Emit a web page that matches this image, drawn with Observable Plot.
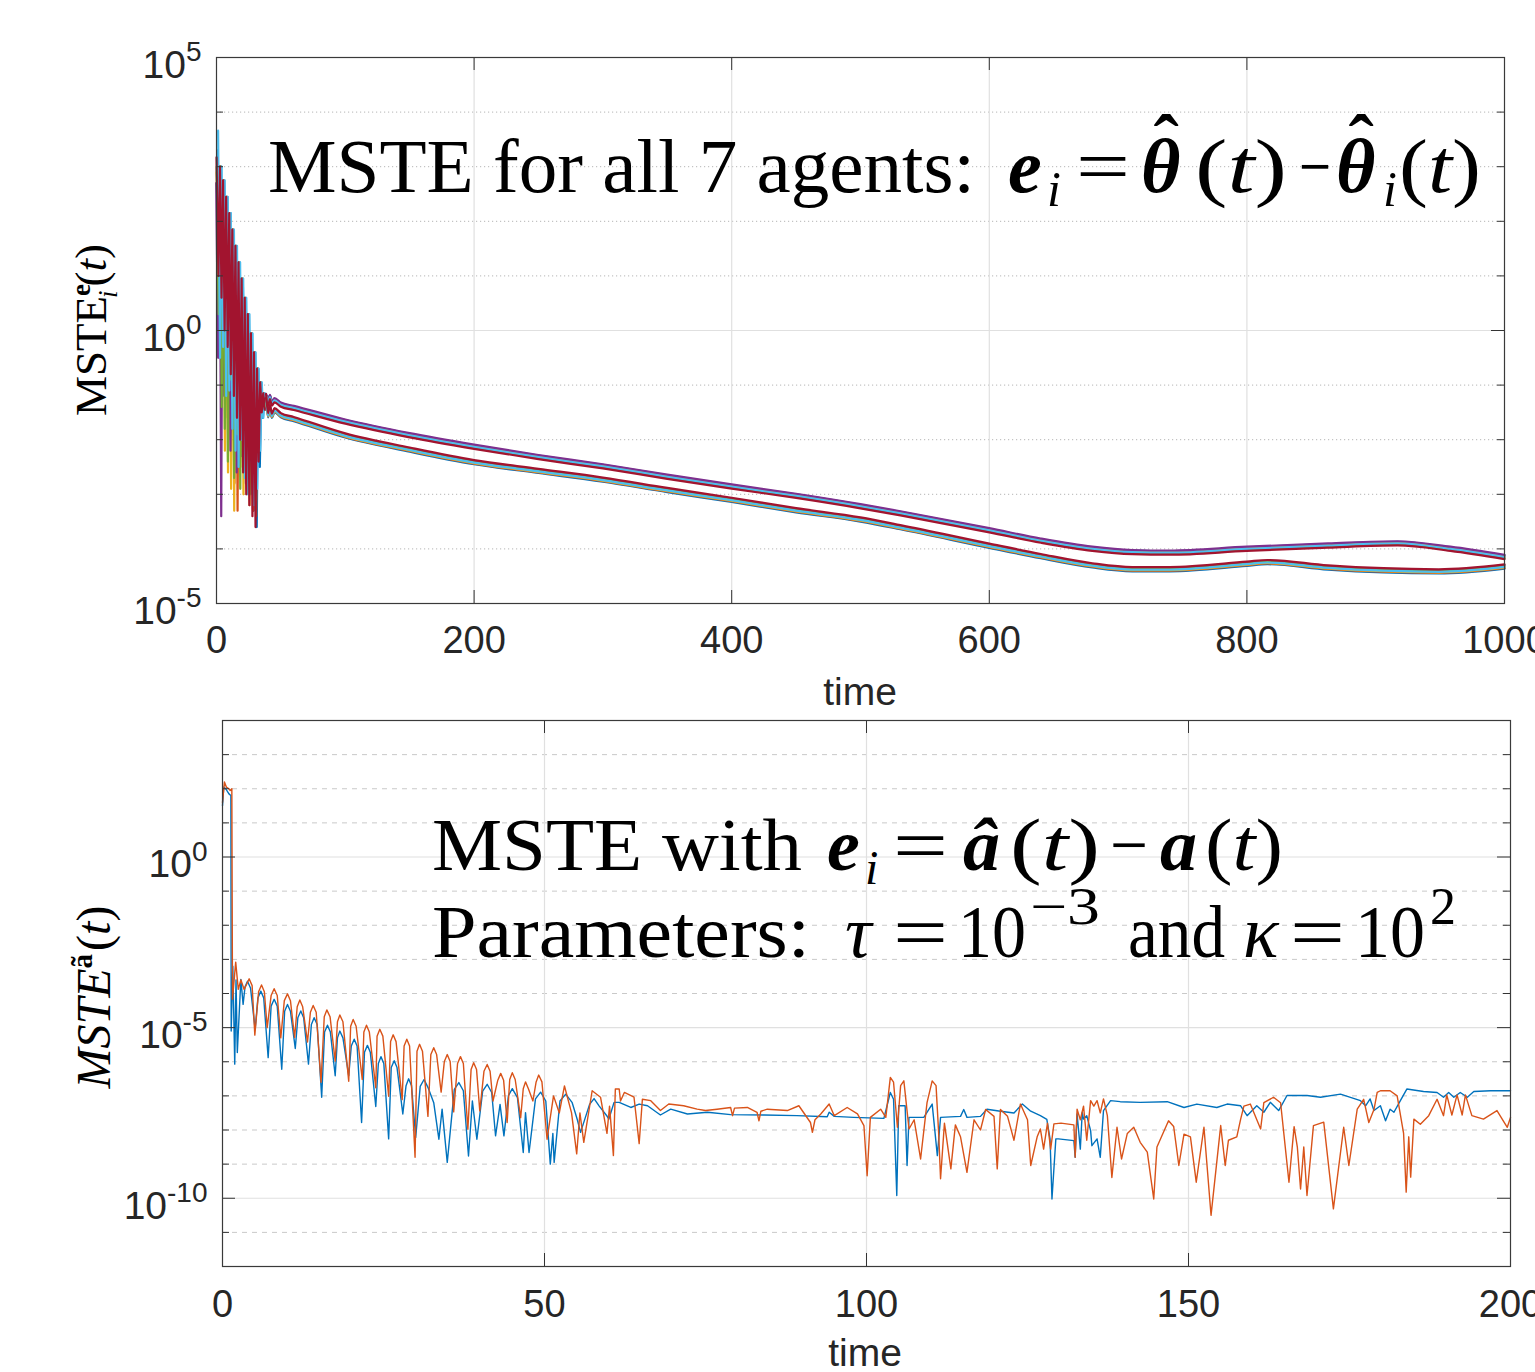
<!DOCTYPE html>
<html><head><meta charset="utf-8">
<script src="https://cdn.jsdelivr.net/npm/d3@7"></script>
<script src="https://cdn.jsdelivr.net/npm/@observablehq/plot@0.6"></script>
<style>
html,body{margin:0;padding:0;background:#fff;width:1535px;height:1372px;overflow:hidden;}
#wrap{position:relative;width:1535px;height:1372px;}
#top{position:absolute;left:0;top:0;}
#bot{position:absolute;left:0;top:710px;}
</style></head><body><div id="wrap"><div id="top"></div><div id="bot"></div></div>
<script>
// ---------- TOP PANEL DATA (log10 values) ----------
const agentColors = ["#0072BD","#D95319","#EDB120","#7E2F8E","#77AC30","#4DBEEE","#A2142F"];
const agentStart = [3.3, 3.05, 2.9, 2.7, 3.0, 3.66, 3.17];
const peakT = [2.7, 5.1, 7.5, 9.9, 12.3, 14.7, 17.1, 19.5, 21.9, 24.3, 26.7, 29.1, 31.5, 33.9];
const envelopeLog = [3.0, 2.75, 2.45, 2.15, 1.85, 1.55, 1.25, 0.95, 0.6, 0.3, -0.05, -0.4, -0.7, -0.95];
const troughT = [1.5, 3.9, 6.3, 8.7, 11.1, 13.5, 15.9, 18.3, 20.7, 23.1, 25.5, 27.9, 30.3, 32.7, 35.1];
const troughBlue      = [0.2, -0.5, -1.0, 0.0, -1.5, -1.8, -0.8, -2.3, -1.0, -2.6, -3.0, -3.3, -3.6, -2.5, -1.6];
const troughOrange    = [1.0, -0.2, -1.6, -2.0, -1.0, -2.8, -3.3, -1.5, -2.2, -2.9, -1.8, -3.3, -3.4, -2.0, -1.5];
const troughYellow    = [0.5, -0.8, -2.2, -2.6, -2.9, -3.3, -2.0, -2.5, -3.0, -1.7, -3.2, -2.6, -3.1, -2.0, -1.4];
const troughPurple    = [-0.5, -3.4, -1.2, -0.6, -2.2, -1.5, -2.6, -1.0, -2.0, -2.8, -1.8, -2.4, -2.6, -1.8, -1.4];
const troughGreen     = [0.3, -1.4, -1.8, -2.4, -0.9, -2.7, -1.9, -2.9, -1.4, -2.3, -3.0, -2.0, -2.7, -1.9, -1.5];
const troughLightBlue = [-0.5, -0.3, -1.2, -1.1, -1.8, -2.2, -2.5, -2.0, -2.7, -3.0, -2.4, -3.2, -2.9, -2.2, -1.6];
const troughRed       = [1.0, 0.6, 0.0, -0.3, -0.8, -1.2, -1.6, -2.0, -2.6, -3.0, -3.2, -3.4, -3.6, -2.4, -1.5];
const oscTail = [[36.3, -1.15], [37.4, -1.45], [38.5, -1.2]];
const upperBand = [[38.5,-1.2],[40,-1.35],[41.5,-1.22],[43,-1.34],[45,-1.28],[50,-1.36],[60,-1.42],[100,-1.67],[150,-1.92],[200,-2.13],[250,-2.32],[300,-2.49],[350,-2.68],[400,-2.86],[450,-3.03],[500,-3.22],[531,-3.35],[600,-3.66],[640,-3.85],[680,-4.0],[711,-4.06],[740,-4.07],[800,-4.0],[863,-3.94],[917,-3.9],[958,-4.0],[1000,-4.15]];
const lowerBand = [[38.5,-1.2],[40,-1.55],[41.5,-1.4],[43,-1.56],[45,-1.46],[50,-1.55],[60,-1.62],[100,-1.92],[150,-2.18],[200,-2.41],[250,-2.57],[300,-2.73],[350,-2.92],[400,-3.10],[450,-3.29],[500,-3.46],[531,-3.6],[600,-3.94],[640,-4.13],[680,-4.3],[711,-4.37],[740,-4.37],[800,-4.27],[816,-4.24],[863,-4.34],[949,-4.41],[1000,-4.32]];
const topXTicks = [0, 200, 400, 600, 800, 1000];
const topYMajor = [1e-5, 1, 1e5];
const topYMinor = [1e-4, 1e-3, 1e-2, 1e-1, 1e1, 1e2, 1e3, 1e4];

// ---------- BOTTOM PANEL DATA (log10 values) ----------
const blueLog = [[0,1.5],[0.2,2.05],[0.5,2.0],[1.0,1.85],[1.3,1.8],[1.35,-5.1],[1.6,-3.2],[1.9,-6.07],[2.1,-3.6],[2.3,-5.73],[2.85,-3.59],[3.2,-4.32],[3.5,-3.8],[3.88,-3.64],[4.35,-3.84],[5.07,-5.05],[5.5,-4.13],[5.95,-3.93],[6.4,-4.13],[7.09,-5.88],[7.55,-4.37],[8.02,-4.17],[8.5,-4.37],[9.2,-6.22],[9.65,-4.52],[10.09,-4.32],[10.55,-4.52],[11.3,-5.61],[11.7,-4.71],[12.16,-4.51],[12.6,-4.71],[13.35,-6.07],[13.8,-4.91],[14.23,-4.71],[14.7,-4.91],[15.4,-7.04],[15.85,-5.13],[16.3,-4.93],[16.75,-5.13],[17.5,-6.41],[17.85,-5.3],[18.22,-5.10],[18.7,-5.3],[19.6,-6.41],[20.0,-5.54],[20.45,-5.34],[20.9,-5.54],[21.6,-7.78],[22.05,-5.72],[22.5,-5.52],[22.95,-5.72],[23.8,-7.31],[24.2,-6.05],[24.6,-5.85],[25.05,-6.05],[25.8,-8.26],[26.2,-6.17],[26.66,-5.97],[27.1,-6.17],[28.0,-7.53],[28.5,-6.7],[28.9,-6.5],[29.35,-6.7],[30.0,-8.22],[30.7,-6.72],[31.3,-6.52],[31.9,-6.75],[32.8,-7.2],[33.6,-8.27],[34.1,-7.39],[34.9,-8.95],[36.0,-6.81],[36.7,-6.61],[37.4,-6.85],[38.2,-8.76],[38.8,-7.15],[39.5,-8.27],[40.4,-6.86],[41.1,-6.66],[41.8,-6.9],[42.4,-8.17],[43.1,-7.25],[43.7,-8.17],[44.4,-6.99],[45.0,-6.79],[45.8,-7.05],[46.7,-8.66],[47.05,-7.49],[47.6,-8.66],[48.6,-7.09],[49.4,-6.89],[50.2,-7.15],[50.9,-9.0],[51.3,-8.1],[51.5,-8.95],[52.4,-7.15],[53.3,-6.95],[54.3,-7.2],[55.1,-7.7],[55.6,-8.07],[57.0,-7.25],[57.7,-7.08],[58.5,-7.3],[59.7,-7.59],[60.0,-7.68],[60.8,-7.19],[61.6,-7.19],[63.4,-7.34],[64.7,-7.24],[66.0,-7.29],[68.0,-7.56],[69.6,-7.39],[72.2,-7.53],[75.3,-7.48],[78.9,-7.55],[84.1,-7.56],[89.2,-7.58],[93.9,-7.61],[94.2,-7.48],[95.0,-7.6],[98.0,-7.63],[102.7,-7.66],[103.7,-6.9],[104.2,-7.1],[104.7,-9.92],[105.0,-7.29],[106.0,-7.29],[106.3,-9.04],[106.6,-7.63],[107.4,-7.63],[108.9,-7.63],[110.2,-7.24],[111.0,-8.75],[111.5,-7.63],[114.6,-7.6],[115.1,-7.4],[115.6,-7.63],[117.7,-7.6],[118.7,-7.39],[120.8,-7.45],[122.9,-7.5],[124.2,-7.24],[125.5,-7.45],[127.0,-7.58],[128.0,-7.69],[128.5,-8.26],[128.8,-10.02],[129.4,-8.26],[129.8,-8.26],[132.2,-8.31],[132.4,-8.8],[132.7,-7.53],[133.2,-8.56],[133.5,-7.48],[133.7,-7.68],[134.2,-7.58],[134.8,-8.02],[135.0,-8.46],[135.8,-8.26],[136.3,-8.8],[136.8,-7.43],[137.9,-7.14],[139.4,-7.17],[142.5,-7.19],[146.7,-7.17],[149.3,-7.34],[151.3,-7.24],[154.4,-7.34],[156.0,-7.24],[158.1,-7.29],[159.1,-7.58],[160.6,-7.29],[161.7,-7.48],[162.7,-7.19],[164.0,-7.43],[165.3,-6.99],[168.4,-6.99],[170.5,-7.04],[173.6,-6.95],[176.7,-7.14],[177.5,-7.29],[178.2,-7.09],[178.8,-7.43],[179.8,-7.29],[180.6,-7.73],[181.3,-7.39],[181.9,-7.48],[182.9,-7.14],[183.9,-6.8],[186.5,-6.87],[188.6,-6.9],[189.6,-7.04],[190.4,-6.9],[191.2,-7.04],[192.2,-6.9],[193.3,-7.04],[194.3,-6.87],[196.9,-6.85],[200,-6.85]];
const orangeLog = [[0,1.6],[0.3,2.2],[0.6,2.05],[1.0,2.0],[1.2,1.95],[1.45,2.0],[1.55,-4.17],[2.05,-3.08],[2.45,-3.88],[2.85,-3.6],[3.36,-3.88],[3.7,-3.75],[4.14,-3.57],[4.6,-3.77],[5.02,-5.22],[5.6,-3.95],[6.06,-3.75],[6.5,-3.95],[6.94,-5.0],[7.55,-4.06],[8.02,-3.86],[8.5,-4.06],[9.05,-5.3],[9.6,-4.21],[10.09,-4.01],[10.55,-4.21],[11.2,-5.29],[11.6,-4.39],[12.01,-4.19],[12.45,-4.39],[13.2,-5.42],[13.65,-4.55],[14.08,-4.35],[14.55,-4.55],[15.3,-6.6],[15.8,-4.68],[16.2,-4.48],[16.7,-4.68],[17.5,-5.98],[17.85,-4.83],[18.22,-4.63],[18.7,-4.83],[19.6,-6.57],[19.9,-4.96],[20.29,-4.76],[20.75,-4.96],[21.7,-6.52],[21.95,-5.13],[22.36,-4.93],[22.8,-5.13],[23.8,-6.76],[24.0,-5.25],[24.43,-5.05],[24.9,-5.25],[25.8,-7.01],[26.1,-5.41],[26.5,-5.21],[26.95,-5.41],[27.9,-7.11],[28.2,-5.54],[28.62,-5.34],[29.05,-5.54],[29.9,-8.8],[30.2,-5.69],[30.6,-5.49],[31.05,-5.69],[31.9,-7.6],[32.35,-5.79],[32.8,-5.59],[33.25,-5.79],[33.95,-6.89],[34.45,-5.99],[34.9,-5.79],[35.35,-5.99],[35.9,-7.47],[36.5,-6.05],[36.95,-5.85],[37.4,-6.05],[38.1,-7.98],[38.6,-6.23],[39.0,-6.03],[39.45,-6.23],[39.95,-7.44],[40.6,-6.28],[41.1,-6.08],[41.55,-6.28],[42.0,-7.15],[42.75,-6.54],[43.2,-6.34],[43.65,-6.54],[44.2,-7.78],[44.6,-6.52],[45.0,-6.32],[45.45,-6.52],[46.3,-7.64],[46.7,-6.79],[47.05,-6.59],[47.5,-6.79],[48.2,-7.15],[48.7,-6.59],[49.1,-6.39],[49.6,-6.59],[50.4,-8.27],[51.4,-7.0],[52.3,-7.5],[53.1,-6.71],[54.2,-7.5],[55.0,-8.7],[55.5,-7.5],[56.1,-8.36],[57.4,-6.85],[58.7,-7.04],[59.7,-8.1],[60.1,-7.3],[60.7,-8.75],[61.0,-6.8],[61.6,-6.8],[61.8,-7.15],[62.4,-6.9],[63.9,-7.04],[64.7,-8.4],[65.2,-7.1],[66.5,-7.14],[68.0,-7.43],[69.3,-7.24],[71.6,-7.29],[73.7,-7.39],[75.0,-7.43],[76.8,-7.39],[78.9,-7.34],[79.2,-7.58],[79.5,-7.36],[81.5,-7.34],[83.0,-7.48],[83.3,-7.73],[83.6,-7.45],[84.6,-7.39],[87.7,-7.43],[89.5,-7.29],[91.3,-7.78],[91.6,-8.07],[92.0,-7.7],[92.9,-7.53],[94.2,-7.24],[95.0,-7.58],[97.0,-7.34],[98.6,-7.53],[99.6,-7.87],[100.1,-9.34],[100.6,-7.63],[102.2,-7.39],[103.0,-7.63],[103.7,-6.46],[104.2,-6.6],[104.8,-7.92],[105.3,-6.7],[105.8,-6.56],[106.6,-7.97],[107.4,-7.7],[108.4,-8.85],[109.4,-7.2],[110.2,-6.56],[110.8,-6.7],[111.2,-8.07],[111.5,-9.43],[112.1,-7.8],[113.1,-9.14],[113.8,-7.85],[114.6,-8.2],[115.6,-9.24],[116.7,-7.7],[117.7,-8.0],[118.5,-7.4],[119.8,-7.6],[120.3,-9.14],[120.8,-7.4],[121.9,-7.6],[122.9,-8.3],[123.9,-7.24],[125.0,-7.7],[125.5,-9.04],[126.5,-8.2],[127.0,-7.97],[127.5,-8.56],[128.1,-7.8],[128.6,-8.56],[129.1,-7.82],[130.2,-7.8],[132.2,-7.85],[132.4,-8.8],[132.7,-7.39],[133.2,-7.7],[133.7,-7.3],[134.2,-8.3],[134.8,-7.14],[135.3,-7.3],[135.8,-7.14],[136.3,-7.5],[136.8,-7.09],[137.4,-7.58],[138.1,-9.39],[138.9,-7.92],[139.6,-8.85],[140.5,-8.1],[141.5,-7.92],[142.5,-8.36],[143.6,-8.65],[144.6,-10.02],[145.1,-8.5],[146.9,-7.73],[147.7,-7.9],[148.5,-9.04],[149.3,-8.12],[150.3,-8.2],[151.2,-9.53],[152.4,-7.92],[153.5,-10.5],[155.0,-7.87],[155.7,-9.04],[156.2,-8.3],[157.5,-8.2],[158.1,-7.68],[158.6,-7.3],[159.6,-7.24],[161.2,-7.97],[161.7,-7.2],[163.2,-7.04],[164.3,-7.2],[165.6,-9.53],[166.4,-7.9],[166.9,-8.5],[167.4,-9.73],[167.9,-8.5],[168.4,-9.92],[169.4,-7.87],[171.0,-7.77],[172.5,-10.31],[174.1,-7.92],[174.9,-9.04],[176.2,-7.39],[177.2,-7.1],[178.0,-7.78],[178.8,-7.4],[179.3,-6.9],[179.8,-6.85],[181.3,-6.85],[182.4,-7.0],[183.4,-8.1],[183.8,-9.82],[184.2,-8.2],[184.5,-9.38],[185.0,-7.68],[186.0,-7.83],[187.3,-7.58],[188.6,-7.1],[189.6,-7.58],[190.1,-6.97],[190.9,-7.56],[191.7,-6.97],[192.5,-7.56],[193.0,-6.97],[194.0,-7.58],[195.8,-7.68],[197.9,-7.43],[199.5,-7.92],[200,-7.63]];
const botXTicks = [0, 50, 100, 150, 200];
const botYMajor = [1e-10, 1e-5, 1];
const botYMinor = [1e-12, 1e-11, 1e-9, 1e-8, 1e-7, 1e-6, 1e-4, 1e-3, 1e-2, 1e-1, 1e1, 1e2, 1e3, 1e4];

// ---------- helpers ----------
const toRows = arr => arr.map(([t, l]) => ({t, v: Math.pow(10, l)}));
const expFmt = d => "10^" + Math.round(Math.log10(d));
const plainFmt = d => String(d);
const agentTroughs = [troughBlue, troughOrange, troughYellow, troughPurple, troughGreen, troughLightBlue, troughRed];
function agentOsc(i) {
  const pts = [[0, agentStart[i]]];
  for (let k = 0; k < troughT.length; k++) {
    pts.push([troughT[k], agentTroughs[i][k]]);
    if (k < peakT.length) pts.push([peakT[k], envelopeLog[k]]);
  }
  return toRows(pts.concat(oscTail));
}
const SANS = "'Liberation Sans', Arial, Helvetica, sans-serif";
const SERIF = "'Liberation Serif', 'Times New Roman', serif";
const FW = 1288, FH = 546;

function supLabels(svg) {
  d3.select(svg).selectAll("text").each(function() {
    const m = /^10\^(-?\d+)$/.exec(this.textContent);
    if (!m) return;
    const el = d3.select(this);
    el.text(null);
    el.append("tspan").text("10");
    el.append("tspan").attr("dy", "-0.6em").attr("font-size", "28px").text(m[1]);
  });
}
function txt(g, x, y, s, o = {}) {
  const t = g.append("text").attr("x", x).attr("y", y)
    .attr("font-family", SERIF).attr("font-size", o.size || 76).attr("fill", "#000")
    .attr("font-style", o.italic ? "italic" : "normal").attr("font-weight", o.bold ? "bold" : "normal")
    .attr("text-anchor", o.anchor || "start");
  if (o.len) t.attr("textLength", o.len).attr("lengthAdjust", "spacingAndGlyphs");
  if (o.parts) { for (const p of o.parts) { const ts = t.append("tspan").text(p[0]); if (p[1]) ts.attr("font-style", "italic"); } }
  else t.text(s);
  return t;
}
function thetaHat(g, x, y) {
  const t = txt(g, x, y, "θ", {bold: true, italic: true});
  t.append("tspan").attr("dx", -27).attr("dy", -24).attr("font-style", "normal").text("ˆ");
  return t;
}

// ---------- TOP PLOT ----------
const oscMarks = agentColors.map((c, i) => Plot.line(agentOsc(i), {x: "t", y: "v", stroke: c, strokeWidth: 2.2, dx: [1.2, 0.6, 0.3, -0.3, 0.2, 1.6, 0][i]}));
const upOff = [-1.5, -0.5, 0.5, -2.2, 1, 0, 2];
const loOff = [2.2, 1.5, 1, -1, 0, 0.5, -2];
const bandMarks = [];
agentColors.forEach((c, i) => {
  bandMarks.push(Plot.line(toRows(upperBand), {x: "t", y: "v", stroke: c, strokeWidth: 2.2, dy: upOff[i], curve: "monotone-x"}));
  bandMarks.push(Plot.line(toRows(lowerBand), {x: "t", y: "v", stroke: c, strokeWidth: 2.2, dy: loOff[i], curve: "monotone-x"}));
});

const topPlot = Plot.plot({
  width: 1535, height: 710,
  marginLeft: 216, marginRight: 31, marginTop: 57, marginBottom: 107,
  style: {fontFamily: SANS, fontSize: "38px", color: "#262626", background: "white", overflow: "visible"},
  x: {domain: [0, 1000], axis: null},
  y: {type: "log", domain: [1e-5, 1e5], axis: null},
  marks: [
    Plot.ruleY(topYMinor, {stroke: "#b5b5b5", strokeDasharray: "1.2,2.8", strokeWidth: 1}),
    Plot.ruleY([1], {stroke: "#e0e0e0", strokeWidth: 1.2}),
    Plot.ruleX(topXTicks.slice(1, -1), {stroke: "#e0e0e0", strokeWidth: 1.2}),
    ...oscMarks,
    ...bandMarks,
    Plot.tickY(topYMinor, {stroke: "#333", insetRight: FW - 7}),
    Plot.tickY(topYMinor, {stroke: "#333", insetLeft: FW - 7}),
    Plot.tickY([1], {stroke: "#333", insetRight: FW - 13}),
    Plot.tickY([1], {stroke: "#333", insetLeft: FW - 13}),
    Plot.tickX(topXTicks, {stroke: "#333", insetTop: FH - 13}),
    Plot.tickX(topXTicks, {stroke: "#333", insetBottom: FH - 13}),
    Plot.frame({stroke: "#3a3a3a", strokeWidth: 1.2}),
    Plot.axisX({ticks: topXTicks, tickSize: 0, tickPadding: 23, tickFormat: plainFmt, label: null, fontSize: 38, fill: "#262626"}),
    Plot.axisY({ticks: topYMajor, tickSize: 0, tickPadding: 15, tickFormat: expFmt, label: null, fontSize: 39, fill: "#262626", dy: 8})
  ]
});
supLabels(topPlot);
{
  const g = d3.select(topPlot).append("g");
  g.append("text").attr("x", 860).attr("y", 705).attr("text-anchor", "middle")
    .attr("font-family", SANS).attr("font-size", 39).attr("fill", "#262626").text("time");
  const yl = g.append("text").attr("transform", "translate(106,330) rotate(-90)").attr("text-anchor", "middle")
    .attr("font-family", SERIF).attr("font-size", 45).attr("fill", "#000");
  yl.append("tspan").text("MSTE");
  yl.append("tspan").attr("dy", -16).attr("font-size", 27).attr("font-weight", "bold").text("e");
  yl.append("tspan").attr("dx", -14).attr("dy", 27).attr("font-size", 27).attr("font-style", "italic").text("i");
  yl.append("tspan").attr("dy", -11).attr("dx", 4).text("(");
  yl.append("tspan").attr("font-style", "italic").text("t");
  yl.append("tspan").text(")");
  // annotation
  txt(g, 268, 192, "MSTE for all 7 agents:", {len: 707});
  txt(g, 1008, 192, "e", {bold: true, italic: true});
  txt(g, 1047, 206, "i", {italic: true, size: 50});
  txt(g, 1076, 192, "=", {len: 54});
  thetaHat(g, 1141, 192);
  txt(g, 1195, 192, null, {parts: [["("], ["t", true], [")"]], len: 92});
  txt(g, 1299, 192, "−", {len: 32});
  thetaHat(g, 1336, 192);
  txt(g, 1383, 206, "i", {italic: true, size: 50});
  txt(g, 1399, 192, null, {parts: [["("], ["t", true], [")"]], len: 82});
}
document.getElementById("top").appendChild(topPlot);

// ---------- BOTTOM PLOT ----------
const botPlot = Plot.plot({
  width: 1535, height: 662,
  marginLeft: 222, marginRight: 25, marginTop: 10, marginBottom: 106,
  style: {fontFamily: SANS, fontSize: "38px", color: "#262626", background: "white", overflow: "visible"},
  x: {domain: [0, 200], axis: null},
  y: {type: "log", domain: [1e-12, 1e4], axis: null},
  marks: [
    Plot.ruleY(botYMinor, {stroke: "#c9c9c9", strokeDasharray: "5,5", strokeWidth: 1}),
    Plot.ruleY(botYMajor, {stroke: "#e0e0e0", strokeWidth: 1.2}),
    Plot.ruleX(botXTicks.slice(1, -1), {stroke: "#e0e0e0", strokeWidth: 1.2}),
    Plot.line(toRows(blueLog), {x: "t", y: "v", stroke: "#0072BD", strokeWidth: 1.4}),
    Plot.line(toRows(orangeLog), {x: "t", y: "v", stroke: "#D95319", strokeWidth: 1.4}),
    Plot.tickY(botYMinor, {stroke: "#333", insetRight: FW - 7}),
    Plot.tickY(botYMinor, {stroke: "#333", insetLeft: FW - 7}),
    Plot.tickY(botYMajor, {stroke: "#333", insetRight: FW - 13}),
    Plot.tickY(botYMajor, {stroke: "#333", insetLeft: FW - 13}),
    Plot.tickX(botXTicks, {stroke: "#333", insetTop: FH - 13}),
    Plot.tickX(botXTicks, {stroke: "#333", insetBottom: FH - 13}),
    Plot.frame({stroke: "#3a3a3a", strokeWidth: 1.2}),
    Plot.axisX({ticks: botXTicks, tickSize: 0, tickPadding: 24, tickFormat: plainFmt, label: null, fontSize: 38, fill: "#262626"}),
    Plot.axisY({ticks: botYMajor, tickSize: 0, tickPadding: 15, tickFormat: expFmt, label: null, fontSize: 39, fill: "#262626", dy: 8})
  ]
});
supLabels(botPlot);
{
  const g = d3.select(botPlot).append("g");
  g.append("text").attr("x", 865).attr("y", 656).attr("text-anchor", "middle")
    .attr("font-family", SANS).attr("font-size", 39).attr("fill", "#262626").text("time");
  const yl = g.append("text").attr("transform", "translate(110,287) rotate(-90)").attr("text-anchor", "middle")
    .attr("font-family", SERIF).attr("font-size", 48).attr("fill", "#000");
  yl.append("tspan").attr("font-style", "italic").text("MSTE");
  yl.append("tspan").attr("dy", -18).attr("font-size", 29).attr("font-weight", "bold").text("ã");
  yl.append("tspan").attr("dy", 18).attr("dx", 3).text("(");
  yl.append("tspan").attr("font-style", "italic").text("t");
  yl.append("tspan").text(")");
  // line 1
  txt(g, 432, 160, "MSTE with", {len: 370, size: 74});
  txt(g, 827, 160, "e", {bold: true, italic: true, size: 74});
  txt(g, 865, 174, "i", {italic: true, size: 48});
  txt(g, 893, 160, "=", {len: 55, size: 74});
  txt(g, 963, 160, "\u00E2", {bold: true, italic: true, size: 74});
  txt(g, 1010, 160, null, {parts: [["("], ["t", true], [")"]], len: 90, size: 74});
  txt(g, 1110, 160, "−", {len: 38, size: 74});
  txt(g, 1160, 160, "a", {bold: true, italic: true, size: 74});
  txt(g, 1205, 160, null, {parts: [["("], ["t", true], [")"]], len: 78, size: 74});
  // line 2
  txt(g, 432, 247, "Parameters:", {len: 378, size: 74});
  txt(g, 845, 247, "τ", {italic: true, size: 74});
  txt(g, 893, 247, "=", {len: 55, size: 74});
  txt(g, 958, 247, "10", {len: 68, size: 74});
  txt(g, 1030, 214, "−3", {len: 70, size: 52});
  txt(g, 1128, 247, "and", {len: 97, size: 74});
  txt(g, 1243, 247, "κ", {italic: true, size: 74});
  txt(g, 1290, 247, "=", {len: 55, size: 74});
  txt(g, 1355, 247, "10", {len: 70, size: 74});
  txt(g, 1430, 214, "2", {size: 52});
}
document.getElementById("bot").appendChild(botPlot);
</script></body></html>
